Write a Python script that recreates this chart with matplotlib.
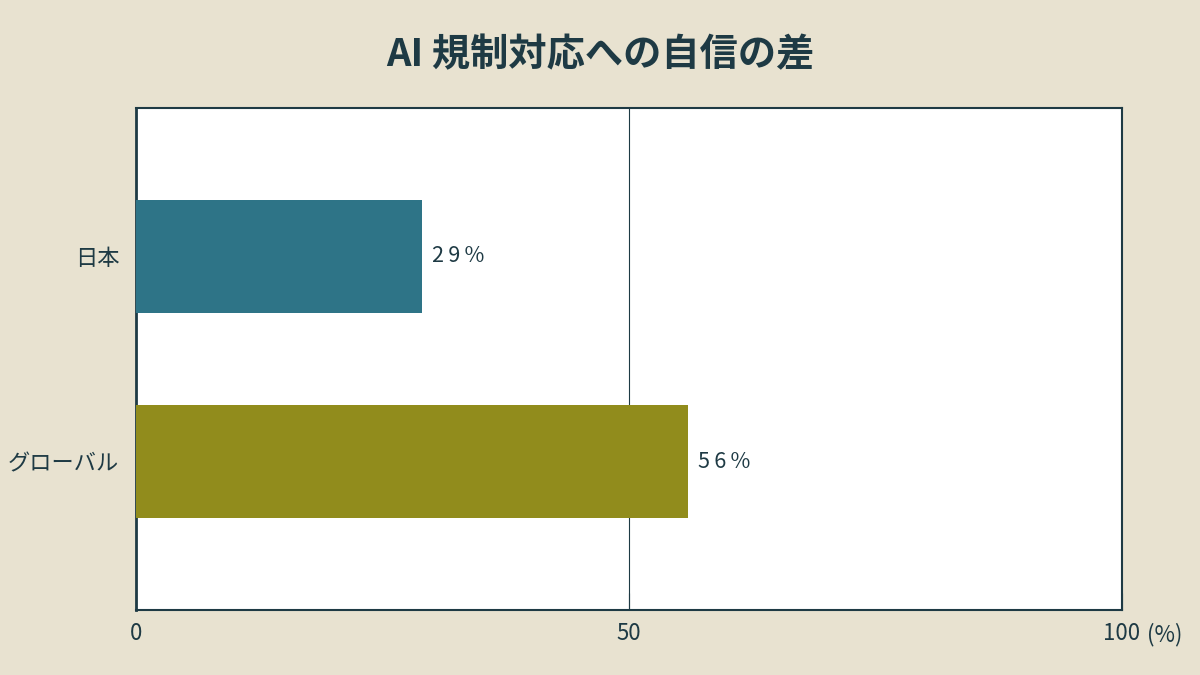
import matplotlib
matplotlib.use("Agg")
import matplotlib.pyplot as plt

plt.rcParams['font.family'] = ['Noto Sans CJK JP', 'DejaVu Sans']

# データ
categories = ["グローバル", "日本"]
values = [56, 29]
bar_colors = ["#918C1C", "#2E7487"]
value_labels = ["56%", "29%"]
x_ticks = [0, 50, 100]
x_tick_labels = ["0", "50", "100"]
title = "AI 規制対応への自信の差"

bg = "#E8E2D0"
ink = "#1E3A44"

fig = plt.figure(figsize=(12, 6.75), dpi=100, facecolor=bg)
ax = fig.add_axes([136 / 1200, 1 - 610 / 675, (1122 - 136) / 1200, (610 - 108) / 675])
ax.set_facecolor("white")

ax.barh(range(len(categories)), values, height=0.55, color=bar_colors, zorder=3)
ax.axvline(50, color=ink, lw=0.8, zorder=2)

# 値ラベル（字間を少し広げる）
for i, (v, lab) in enumerate(zip(values, value_labels)):
    ax.text(v + 1, i, "\u2009".join(lab), va="center", ha="left",
            fontsize=15.5, color=ink, fontfamily=['Noto Sans CJK JP', 'DejaVu Sans'])

ax.set_xlim(0, 100)
ax.set_ylim(-0.72, 1.72)
ax.set_yticks(range(len(categories)))
ax.set_yticklabels(categories, fontsize=16, color=ink)
ax.set_xticks(x_ticks)
ax.set_xticklabels(x_tick_labels, fontsize=16, color=ink)
ax.tick_params(axis="y", length=0, pad=12)
ax.tick_params(axis="x", direction="in", length=12, width=0.8, color=ink, pad=9)

# 単位
ax.text(102.5, -0.048, "(%)", transform=ax.get_xaxis_transform(), ha="left", va="center",
        fontsize=16, color=ink)

for s in ax.spines.values():
    s.set_color(ink)
    s.set_linewidth(1.5)
ax.spines["left"].set_linewidth(2)

fig.text(0.5, 1 - 55 / 675, title, ha="center", va="center", fontsize=27.5,
         fontweight="bold", color=ink)

fig.savefig("out.png", dpi=100, facecolor=bg)
